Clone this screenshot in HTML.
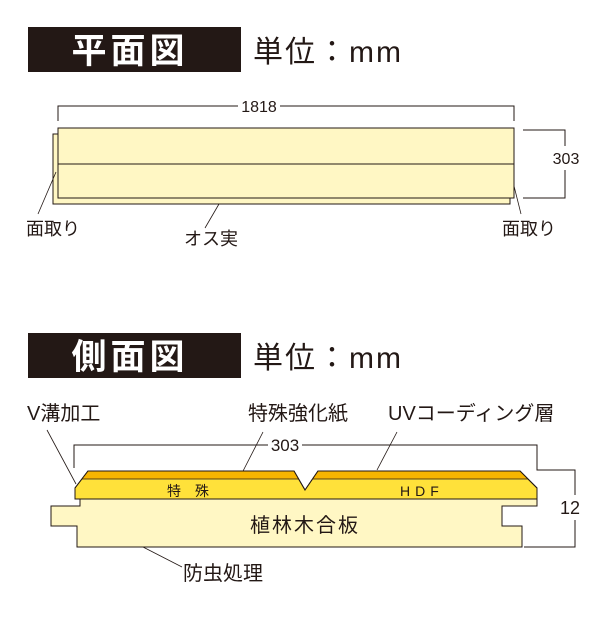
<!DOCTYPE html>
<html><head><meta charset="utf-8"><style>
body{margin:0;background:#fff;width:600px;height:620px;overflow:hidden}
svg text{font-family:"Liberation Sans","Noto Sans CJK JP",sans-serif;fill:#231815}
</style></head><body>
<svg width="600" height="620" viewBox="0 0 600 620" xmlns="http://www.w3.org/2000/svg">
<!-- header 1 -->
<rect x="28" y="27" width="213" height="45" fill="#231815"/>
<text x="130" y="63" font-size="35" font-weight="bold" text-anchor="middle" letter-spacing="4" style="fill:#fff">平面図</text>
<text x="253" y="62" font-size="30" letter-spacing="2">単位：mm</text>
<!-- plan view -->
<g stroke="#231815" stroke-width="1" fill="none">
<polyline points="58,121 58,106 238,106"/><polyline points="280,106 514,106 514,121"/>
<polyline points="523,130 565,130 565,146"/><polyline points="565,170 565,198 523,198"/>
</g>
<text x="259" y="112" font-size="16" text-anchor="middle">1818</text>
<text x="566" y="164" font-size="16" text-anchor="middle">303</text>
<rect x="53" y="134" width="457" height="70" fill="#fff7c4" stroke="#231815" stroke-width="1"/>
<rect x="58" y="128" width="456" height="70" fill="#fff7c4" stroke="#231815" stroke-width="1"/>
<line x1="58" y1="164" x2="514" y2="164" stroke="#231815"/>
<g stroke="#231815" stroke-width="0.8">
<line x1="56" y1="172" x2="38" y2="214"/><line x1="219" y1="204" x2="205" y2="228"/><line x1="514" y1="186" x2="521" y2="214"/>
</g>
<text x="26" y="235" font-size="18">面取り</text>
<text x="184" y="245" font-size="18">オス実</text>
<text x="502" y="235" font-size="18">面取り</text>
<!-- header 2 -->
<rect x="28" y="333" width="213" height="45" fill="#231815"/>
<text x="130" y="369" font-size="35" font-weight="bold" text-anchor="middle" letter-spacing="4" style="fill:#fff">側面図</text>
<text x="253" y="368" font-size="30" letter-spacing="2">単位：mm</text>
<!-- side view labels -->
<text x="27" y="420" font-size="20">V溝加工</text>
<text x="248" y="420" font-size="20">特殊強化紙</text>
<text x="388" y="420" font-size="20">UVコーディング層</text>
<g stroke="#231815" stroke-width="1" fill="none">
<polyline points="74,468 74,445 268,445"/><polyline points="302,445 537,445 537,470 575,470 575,495"/><polyline points="575,520 575,547 524,547"/>
<line x1="47" y1="430" x2="76" y2="484" stroke-width="0.8"/>
<line x1="263" y1="432" x2="241" y2="475" stroke-width="0.8"/>
<line x1="397" y1="432" x2="377" y2="470" stroke-width="0.8"/>
<line x1="143" y1="547" x2="182" y2="567" stroke-width="0.8"/>
</g>
<text x="285" y="451" font-size="17" text-anchor="middle">303</text>
<text x="570" y="514" font-size="18" text-anchor="middle">12</text>
<!-- plywood -->
<polygon points="80,499 537,499 537,506 502,506 502,526 522,526 522,547 77,547 77,526 51,526 51,506 80,506" fill="#fff7c4" stroke="#231815" stroke-width="1"/>
<!-- HDF -->
<polygon points="75,499 75,488 88,471 294,471 305,490 318,471 520,471 537,488 537,499" fill="#ffe13a" stroke="#231815" stroke-width="1"/>
<polygon points="88,471 294,471 299,479 82,479" fill="#f7b500" stroke="none"/>
<polygon points="318,471 520,471 528,479 313,479" fill="#f7b500" stroke="none"/>
<polyline points="82,479 299,479" stroke="#231815" stroke-width="0.8"/>
<polyline points="313,479 528,479" stroke="#231815" stroke-width="0.8"/>
<polygon points="75,499 75,488 88,471 294,471 305,490 318,471 520,471 537,488 537,499" fill="none" stroke="#231815" stroke-width="1"/>
<text x="167" y="496" font-size="14" letter-spacing="14">特殊</text>
<text x="400" y="496" font-size="14" letter-spacing="5">HDF</text>
<text x="305" y="532" font-size="20" text-anchor="middle" letter-spacing="2">植林木合板</text>
<text x="183" y="580" font-size="20">防虫処理</text>
</svg>
</body></html>
